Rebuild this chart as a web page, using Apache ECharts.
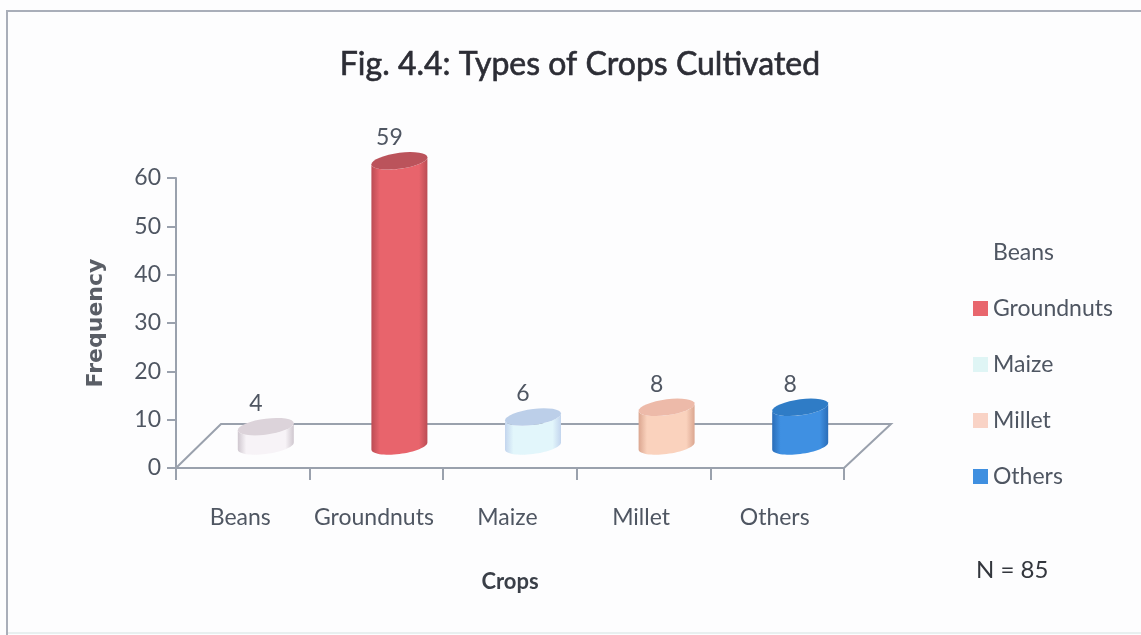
<!DOCTYPE html>
<html>
<head>
<meta charset="utf-8">
<script src="https://cdn.jsdelivr.net/npm/echarts@6/dist/echarts.min.js"></script>
<style>html,body{margin:0;padding:0;background:#fdfdfe}#chart{width:1141px;height:635px}</style>
</head>
<body>
<div id="chart"></div>
<script>
const categories = ['Beans', 'Groundnuts', 'Maize', 'Millet', 'Others'];
const frequencies = [4, 59, 6, 8, 8];
const sideEdge = ['#cfc7cf', '#bb4c54', '#c3d5ee', '#dba690', '#2a6db8'];
const sideMid = ['#f7f3f7', '#e8646c', '#e2f6fb', '#fad2bd', '#3f90e2'];
const capFill = ['#dcd3da', '#bb535b', '#bccfe9', '#edbaa9', '#2f7cc6'];
const legendFill = ['#fdfdfe', '#e8666d', '#dff5f5', '#f9d3c6', '#3f8fe0'];

const textColor = '#4f5662';
const lineColor = '#9aa1ad';
const font = 'Lato';

// Pseudo-3D offsets, in pixels, of the floor's back edge and of the cylinder bases.
const floorDepth = { x: 45, y: -44 };
const baseShift = { x: 23, y: -22 };
const rx = 28, ry = 8, tilt = 3.5;

// Outline points of a tilted ellipse between two angles.
function arcPoints(cx, cy, from, to) {
  const pts = [];
  for (let s = 0; s <= 32; s++) {
    const t = from + (to - from) * s / 32;
    pts.push([cx + rx * Math.cos(t), cy - tilt * Math.cos(t) + ry * Math.sin(t)]);
  }
  return pts;
}

function cylinder(params, api) {
  const i = api.value(0);
  const base = api.coord([i, 0]);
  const top = api.coord([i, api.value(1)]);
  const cx = base[0] + baseShift.x;
  const by = base[1] + baseShift.y;
  const ty = top[1] + baseShift.y;
  const wall = arcPoints(cx, by, Math.PI, 0).concat(arcPoints(cx, ty, 0, Math.PI));
  return {
    type: 'group',
    children: [
      {
        type: 'polygon',
        shape: { points: wall },
        style: {
          fill: new echarts.graphic.LinearGradient(0, 0, 1, 0, [
            { offset: 0, color: sideEdge[i] },
            { offset: 0.15, color: sideMid[i] },
            { offset: 0.85, color: sideMid[i] },
            { offset: 1, color: sideEdge[i] }
          ])
        }
      },
      {
        type: 'polygon',
        shape: { points: arcPoints(cx, ty, 0, Math.PI * 2) },
        style: { fill: capFill[i] }
      },
      {
        type: 'text',
        style: {
          text: String(api.value(1)),
          x: cx - 10, y: ty - 23,
          align: 'center', verticalAlign: 'middle',
          fill: textColor, font: `23px ${font}`
        }
      }
    ]
  };
}

function floor(params, api) {
  const band = api.size([1, 0])[0];
  const a = api.coord([0, 0]);
  const b = api.coord([4, 0]);
  const left = a[0] - band / 2;
  const right = b[0] + band / 2;
  const y = a[1];
  return {
    type: 'polyline',
    shape: {
      points: [
        [left, y],
        [left + floorDepth.x, y + floorDepth.y],
        [right + floorDepth.x + 2, y + floorDepth.y],
        [right, y]
      ]
    },
    style: { stroke: lineColor, lineWidth: 2, fill: 'none' }
  };
}

const series = [{
  type: 'custom',
  name: 'floor',
  silent: true,
  z: 1,
  clip: false,
  coordinateSystem: 'cartesian2d',
  renderItem: floor,
  data: [[0, 0]]
}].concat(categories.map((name, i) => ({
  type: 'custom',
  name,
  z: 2,
  clip: false,
  coordinateSystem: 'cartesian2d',
  itemStyle: { color: legendFill[i] },
  renderItem: cylinder,
  encode: { x: 0, y: 1 },
  data: [[i, frequencies[i]]]
})));

const chart = echarts.init(document.getElementById('chart'), null, { renderer: 'canvas' });
chart.setOption({
  animation: false,
  backgroundColor: '#fdfdfe',
  title: {
    text: 'Fig. 4.4: Types of Crops Cultivated',
    left: 575, top: 60, textAlign: 'center', textVerticalAlign: 'middle',
    textStyle: { fontFamily: font, fontSize: 32, fontWeight: 'normal', color: '#2c2d35', textBorderColor: '#2c2d35', textBorderWidth: 0.6 }
  },
  grid: { left: 176, right: 297, top: 178, bottom: 167 },
  xAxis: {
    type: 'category',
    data: categories,
    name: 'Crops',
    nameLocation: 'middle',
    nameGap: 103,
    nameTextStyle: { fontFamily: font, fontSize: 22, fontWeight: 'bold', color: '#3a3f48' },
    axisLine: { lineStyle: { color: lineColor, width: 2 } },
    axisTick: { show: true, alignWithLabel: false, length: 12, lineStyle: { color: lineColor, width: 2 } },
    axisLabel: { show: true, interval: 0, margin: 38, padding: [0, 5, 0, 0], fontFamily: font, fontSize: 23, color: textColor }
  },
  yAxis: {
    type: 'value',
    min: 0, max: 60, interval: 10,
    name: 'Frequency',
    nameLocation: 'middle',
    nameGap: 69,
    nameTextStyle: { fontFamily: 'DejaVu Sans', fontSize: 22, fontWeight: 'bold', color: '#5a5e66' },
    splitLine: { show: false },
    axisLine: { show: true, lineStyle: { color: lineColor, width: 2 } },
    axisTick: { show: true, length: 9, lineStyle: { color: lineColor, width: 2 } },
    axisLabel: { margin: 15, padding: [4, 0, 0, 0], fontFamily: font, fontSize: 23, color: textColor }
  },
  legend: {
    orient: 'vertical',
    left: 973, top: 238,
    padding: 0,
    data: categories,
    icon: 'rect',
    itemWidth: 15, itemHeight: 15,
    itemGap: 27,
    textStyle: { fontFamily: font, fontSize: 23, color: textColor, lineHeight: 29 },
    selectedMode: false
  },
  graphic: [
    { type: 'polyline', silent: true, shape: { points: [[7, 635], [7, 11], [1141, 11]] }, style: { fill: 'none', stroke: '#a9aeb9', lineWidth: 2 } },
    { type: 'line', silent: true, shape: { x1: 8, y1: 633, x2: 1141, y2: 633 }, style: { stroke: '#e8f0f0', lineWidth: 2 } },
    { type: 'text', silent: true, left: 976, top: 558, style: { text: 'N = 85', fill: '#33363d', font: `24px ${font}` } }
  ],
  series
});
</script>
</body>
</html>
